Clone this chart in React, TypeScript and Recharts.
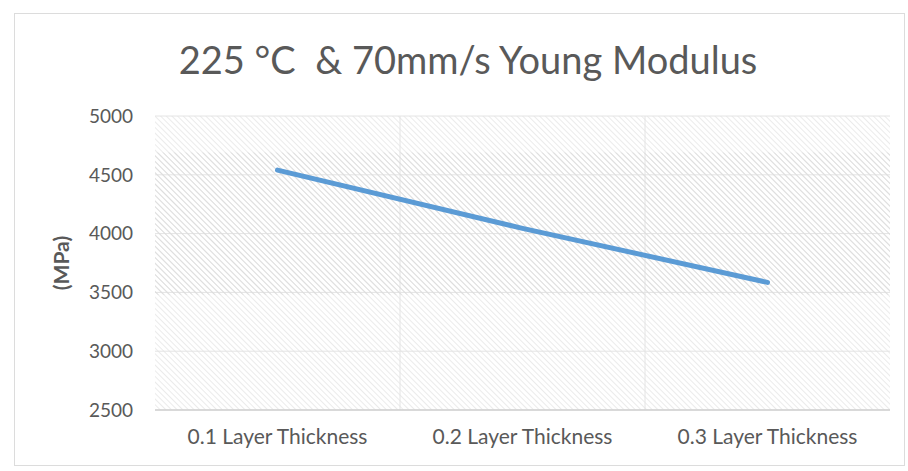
import React from "react";
import {
    LineChart,
    Line,
    XAxis,
    YAxis,
    CartesianGrid,
    ReferenceArea
} from "recharts";

const categories = ["0.1 Layer Thickness", "0.2 Layer Thickness", "0.3 Layer Thickness"];
const youngModulus = [4540, 4045, 3585];
const yTicks = [2500, 3000, 3500, 4000, 4500, 5000];

const data = categories.map((name, i) => ({name, value: youngModulus[i]}));

const textColor = "#595959";
const font = "Lato, 'Open Sans', sans-serif";

export default function App() {
    return <div style={{position: "absolute", left: 0, top: 0, width: 908, height: 471, background: "#fff"}}>
        <div style={{
            position: "absolute", left: 14, top: 13, width: 891, height: 453,
            border: "1px solid #dcdcdc", boxSizing: "border-box"
        }}/>
        <div style={{
            position: "absolute", left: 0, width: 936, top: 36, textAlign: "center",
            fontFamily: font, fontSize: 38, color: textColor, whiteSpace: "pre"
        }}>
            {"225 °C  & 70mm/s Young Modulus"}
        </div>
        <div style={{position: "absolute", left: 0, top: 0}}>
            <LineChart
                width={908}
                height={471}
                data={data}
                margin={{top: 116, right: 18, bottom: 0, left: 0}}
            >
                <defs>
                    <pattern id="hatch" width="4" height="4" patternUnits="userSpaceOnUse"
                             patternTransform="rotate(45)">
                        <line x1="0" y1="0" x2="4" y2="0" stroke="#e6e6e6" strokeWidth="1.6"/>
                    </pattern>
                    <pattern id="hatch2" width="4" height="4" patternUnits="userSpaceOnUse"
                             patternTransform="rotate(45)">
                        <line x1="0" y1="0" x2="4" y2="0" stroke="#d8d8d8" strokeWidth="1.4"/>
                    </pattern>
                </defs>
                <CartesianGrid
                    stroke="#e4e4e4"
                    fill="url(#hatch)"
                    verticalCoordinatesGenerator={({offset}: any) => [
                        offset.left + offset.width / 3,
                        offset.left + (2 * offset.width) / 3
                    ]}
                />
                <ReferenceArea
                    x1={categories[0]}
                    x2={categories[2]}
                    y1={3480}
                    y2={4690}
                    fill="url(#hatch2)"
                    fillOpacity={1}
                    stroke="none"
                />
                <XAxis
                    dataKey="name"
                    scale="band"
                    height={61}
                    axisLine={{stroke: "#d0d0d0", strokeWidth: 1.5}}
                    tickLine={false}
                    tickSize={0}
                    tickMargin={19}
                    tick={{fill: textColor, fontSize: 21, fontFamily: font}}
                    interval={0}
                />
                <YAxis
                    width={155}
                    domain={[2500, 5000]}
                    ticks={yTicks}
                    axisLine={false}
                    tickLine={false}
                    tickSize={0}
                    tickMargin={22}
                    tick={{fill: textColor, fontSize: 19, fontFamily: font}}
                    label={{
                        value: "(MPa)",
                        angle: -90,
                        position: "insideLeft",
                        offset: 62,
                        style: {fill: textColor, fontSize: 21, fontWeight: 700, fontFamily: font, textAnchor: "middle"}
                    }}
                />
                <Line
                    type="monotone"
                    dataKey="value"
                    stroke="#5b9bd5"
                    strokeWidth={5}
                    strokeLinecap="round"
                    dot={false}
                    activeDot={false}
                    isAnimationActive={false}
                />
            </LineChart>
        </div>
    </div>;
}
